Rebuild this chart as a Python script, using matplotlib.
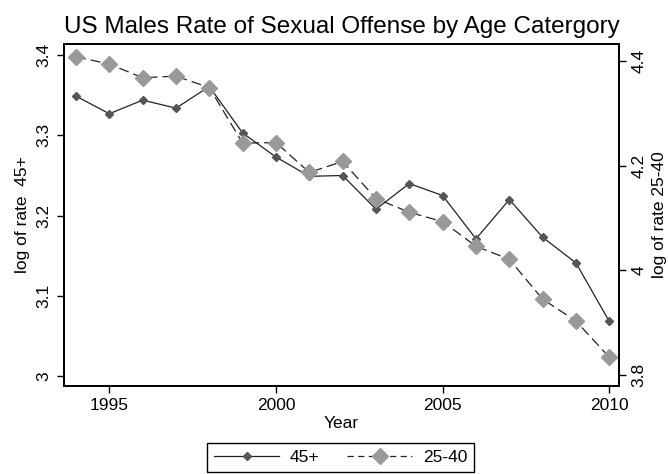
import matplotlib
matplotlib.use("Agg")
import matplotlib.pyplot as plt
from matplotlib.lines import Line2D

plt.rcParams['font.family'] = ['Liberation Sans', 'DejaVu Sans']

# data
years = [1994, 1995, 1996, 1997, 1998, 1999, 2000, 2001, 2002,
         2003, 2004, 2005, 2006, 2007, 2008, 2009, 2010]
rate_45 = [3.349, 3.327, 3.344, 3.334, 3.361, 3.303, 3.273, 3.249, 3.250,
           3.208, 3.240, 3.225, 3.171, 3.220, 3.173, 3.141, 3.068]
rate_25_40 = [4.408, 4.394, 4.368, 4.371, 4.349, 4.243, 4.244, 4.187, 4.208,
              4.137, 4.111, 4.093, 4.046, 4.021, 3.945, 3.903, 3.834]
x_ticks = [1995, 2000, 2005, 2010]
left_ticks = [3.0, 3.1, 3.2, 3.3, 3.4]
left_labels = ['3', '3.1', '3.2', '3.3', '3.4']
right_ticks = [3.8, 4.0, 4.2, 4.4]
right_labels = ['3.8', '4', '4.2', '4.4']

DARK = '#555555'
LIGHT = '#999999'
FS = 12.5

fig = plt.figure(figsize=(6.68, 4.74), dpi=100)
ax = fig.add_axes([0.0958, 0.1863, 0.8308, 0.7209])
ax2 = ax.twinx()

ax.plot(years, rate_45, color='#222222', lw=0.9, marker='D', ms=4,
        mfc=DARK, mec=DARK, zorder=3)
ax2.plot(years, rate_25_40, color='#222222', lw=0.9, dashes=(8, 4),
         marker='D', ms=8, mfc=LIGHT, mec=LIGHT, zorder=2)

ax.set_xlim(1993.64, 2010.29)
ax.set_ylim(2.9879, 3.414)
ax2.set_ylim(3.7796, 4.4324)

ax.set_xticks(x_ticks)
ax.set_yticks(left_ticks)
ax.set_yticklabels(left_labels, rotation=90, va='center')
ax2.set_yticks(right_ticks)
ax2.set_yticklabels(right_labels, rotation=90, va='center')

for a in (ax, ax2):
    a.tick_params(direction='out', length=5, width=1, labelsize=FS,
                  colors='black', pad=4)
    for s in a.spines.values():
        s.set_linewidth(1.3)

ax.set_xlabel('Year', fontsize=FS, labelpad=2)
ax.set_ylabel('log of rate  45+', fontsize=FS, labelpad=5)
ax2.set_ylabel('log of rate 25-40', fontsize=FS, rotation=90, labelpad=4)
ax.set_title('US Males Rate of Sexual Offense by Age Catergory',
             fontsize=17.5, pad=8)

handles = [
    Line2D([], [], color='#222222', lw=0.9, marker='D', ms=4,
           mfc=DARK, mec=DARK),
    Line2D([], [], color='#222222', lw=0.9, dashes=(5, 3.5), marker='D',
           ms=8, mfc=LIGHT, mec=LIGHT),
]
leg = fig.legend(handles, ['45+', '25-40'], loc='upper center',
                 bbox_to_anchor=(0.51, 1 - 443 / 474), ncol=2,
                 fontsize=FS, frameon=True, fancybox=False,
                 edgecolor='black', framealpha=1, handlelength=3.75,
                 handletextpad=0.6, columnspacing=1.6, borderpad=0.4,
                 borderaxespad=0)
leg.get_frame().set_linewidth(1.0)

fig.savefig('out.png', dpi=100)
